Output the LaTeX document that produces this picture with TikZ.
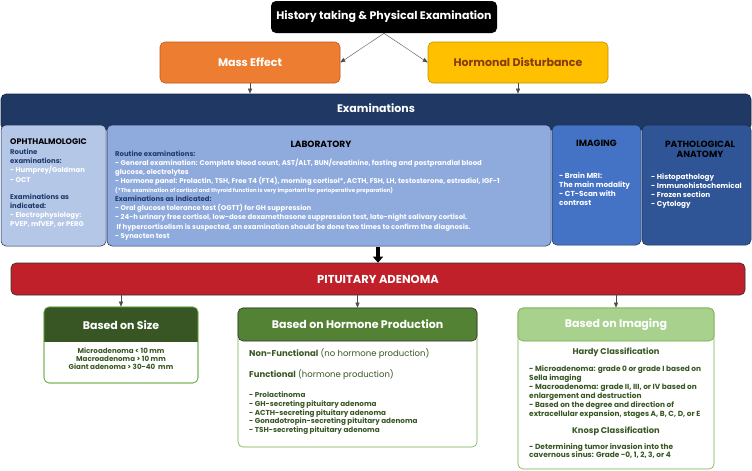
\documentclass[tikz,border=0pt]{standalone}
\usepackage{fontspec}
\setmainfont{Poppins}
\usetikzlibrary{arrows.meta}
\definecolor{orangeF}{HTML}{ED7D31}
\definecolor{orangeD}{HTML}{B85A1E}
\definecolor{yellowF}{HTML}{FFC000}
\definecolor{yellowD}{HTML}{BF9000}
\definecolor{brownT}{HTML}{843C0C}
\definecolor{navy}{HTML}{203864}
\definecolor{navyT}{HTML}{1F3A6B}
\definecolor{ophF}{HTML}{B4C7E7}
\definecolor{labF}{HTML}{8FAADC}
\definecolor{imgF}{HTML}{4472C4}
\definecolor{pathF}{HTML}{2F5597}
\definecolor{redF}{HTML}{C0202A}
\definecolor{gDark}{HTML}{375623}
\definecolor{gMid}{HTML}{548235}
\definecolor{gLight}{HTML}{A9D18E}
\definecolor{gBord}{HTML}{70AD47}
\definecolor{gText}{HTML}{385723}
\begin{document}
\begin{tikzpicture}[x=1pt,y=-1pt,
  box/.style={rounded corners=5pt, inner sep=0pt, line width=0.6pt},
  subbox/.style={box, draw=navy!80!black, line width=0.5pt},
  txt/.style={inner sep=0pt, align=left, font=\fontsize{6.9}{9.1}\selectfont\bfseries},
  ttl/.style={inner sep=0pt, align=center, font=\fontsize{9}{9.5}\selectfont\bfseries},
  big/.style={font=\fontsize{11}{13}\selectfont\bfseries},
  arr/.style={-{Triangle[width=4pt,length=5pt]}, line width=0.4pt, draw=black!70},
  ]
\useasboundingbox (0,0) rectangle (752,471);

% top nodes
\node[box, big, fill=black, minimum width=226, minimum height=32, text=white] (hist) at (384,17) {History taking \& Physical Examination};
\node[box, big, fill=orangeF, draw=orangeD, minimum width=180, minimum height=41, text=white] (mass) at (250,62.5) {Mass Effect};
\node[box, big, fill=yellowF, draw=yellowD, minimum width=180, minimum height=41, text=brownT] (horm) at (518,62.5) {Hormonal Disturbance};
\draw[arr] (hist.south) -- (mass.east);
\draw[arr] (hist.south) -- (horm.west);

% examinations bar
\node[box, fill=navy, draw=navy!70!black, minimum width=750, minimum height=36] (exam) at (376,112) {};
\node[inner sep=0pt, big, text=white] (examT) at (376,108.5) {Examinations};
\draw[arr] (mass.south) -- (mass.south |- exam.north);
\draw[arr] (horm.south) -- (horm.south |- exam.north);

% sub boxes
\node[subbox, fill=ophF, minimum width=105, minimum height=121] (oph) at (53.5,185.5) {};
\node[subbox, fill=labF, minimum width=444, minimum height=121] (lab) at (329,185.5) {};
\node[subbox, fill=imgF, minimum width=89, minimum height=120] (img) at (596.5,185) {};
\node[subbox, fill=pathF, minimum width=109, minimum height=120] (path) at (696.5,185) {};

% ophthalmologic text
\node[ttl, anchor=north west, text=black, font=\fontsize{8.1}{9}\selectfont\bfseries] (ophT) at (10,139) {OPHTHALMOLOGIC};
\node[txt, anchor=north west] (ophB) at (10,149) {%
\textcolor{navyT}{Routine}\\
\textcolor{navyT}{examinations:}\\
\textcolor{white}{- Humprey/Goldman}\\
\textcolor{white}{- OCT}\\[8pt]
\textcolor{navyT}{Examinations as}\\
\textcolor{navyT}{indicated:}\\
\textcolor{white}{- Electrophysiology:}\\
\textcolor{white}{PVEP, mfVEP, or PERG}};

% laboratory text
\node[ttl, text=black] (labT) at (321,144) {LABORATORY};
\node[txt, anchor=north west] (labB) at (115,150.5) {%
\textcolor{navyT}{Routine examinations:}\\
\textcolor{white}{- General examination: Complete blood count, AST/ALT, BUN/creatinine, fasting and postprandial blood}\\
\textcolor{white}{glucose, electrolytes}\\
\textcolor{white}{- Hormone panel: Prolactin, TSH, Free T4 (FT4), morning cortisol*, ACTH, FSH, LH, testosterone, estradiol, IGF-1}\\
\textcolor{white}{\fontsize{5.5}{9.1}\selectfont (*The examination of cortisol and thyroid function is very important for perioperative preparation)}\\
\textcolor{navyT}{Examinations as indicated:}\\
\textcolor{white}{- Oral glucose tolerance test (OGTT) for GH suppression}\\
\textcolor{white}{- 24-h urinary free cortisol, low-dose dexamethasone suppression test, late-night salivary cortisol.}\\
\textcolor{white}{\ If hypercortisolism is suspected, an examination should be done two times to confirm the diagnosis.}\\
\textcolor{white}{- Synacten test}};

% imaging text
\node[ttl, text=black] (imgT) at (596.5,143) {IMAGING};
\node[txt, anchor=north west, text=white, font=\fontsize{7.3}{9}\selectfont\bfseries] (imgB) at (559,172) {- Brain MRI:\\The main modality\\- CT-Scan with\\contrast};

% pathological text
\node[ttl, text=black] (pathT) at (700,149.5) {PATHOLOGICAL\\ANATOMY};
\node[txt, anchor=north west, text=white, font=\fontsize{7.2}{8.8}\selectfont\bfseries] (pathB) at (651,174) {- Histopathology\\- Immunohistochemical\\- Frozen section\\- Cytology};

% thick arrow to pituitary adenoma
\coordinate (thickS) at (378,247);
\node[box, fill=redF, draw=black!80, minimum width=734, minimum height=32, text=white,
  font=\fontsize{11.5}{13}\selectfont\bfseries] (pit) at (378,279) {PITUITARY ADENOMA};
\draw[-{Triangle[width=10pt,length=6pt]}, line width=3.5pt] (thickS) -- (pit.north);

% bottom boxes
\node[box, draw=gBord, fill=white, minimum width=154, minimum height=76] (size) at (121,345) {};
\begin{scope}
\clip[rounded corners=5pt] (44,307) rectangle (198,383);
\fill[gDark] (44,307) rectangle (198,342);
\end{scope}
\draw[gBord, line width=0.6pt, rounded corners=5pt] (44,307) rectangle (198,383);
\node[inner sep=0pt, big, text=white] (sizeT) at (121,325) {Based on Size};
\node[inner sep=0pt, align=center, text=gText, font=\fontsize{7.1}{8}\selectfont\bfseries] (sizeB) at (121,359)
  {Microadenoma < 10 mm\\Macroadenoma > 10 mm\\Giant adenoma > 30-40\ \ mm};

\node[box, draw=gBord, fill=white, minimum width=239, minimum height=139] (hprod) at (357.5,377.5) {};
\draw[fill=gMid, draw=black!80, line width=0.6pt, rounded corners=5pt] (238,308) rectangle (477,341);
\node[inner sep=0pt, big, text=white] (hprodT) at (357.5,324.5) {Based on Hormone Production};
\node[inner sep=0pt, anchor=west, text=gText, font=\fontsize{8.5}{9}\selectfont] (nonF) at (249,354)
  {\textbf{Non-Functional} (no hormone production)};
\node[inner sep=0pt, anchor=west, text=gText, font=\fontsize{8.5}{9}\selectfont] (func) at (249,375)
  {\textbf{Functional} (hormone production)};
\node[txt, anchor=north west, text=gText, font=\fontsize{7.2}{8.6}\selectfont\bfseries] (funcL) at (249,392)
  {- Prolactinoma\\- GH-secreting pituitary adenoma\\- ACTH-secreting pituitary adenoma\\- Gonadotropin-secreting pituitary adenoma\\- TSH-secreting pituitary adenoma};

\node[box, draw=gBord, fill=white, minimum width=196, minimum height=161] (bimg) at (616,388.5) {};
\draw[fill=gLight, draw=gBord, line width=0.6pt, rounded corners=5pt] (518,308) rectangle (714,341);
\node[inner sep=0pt, big, text=white] (bimgT) at (616,324.5) {Based on Imaging};
\node[inner sep=0pt, text=gText, font=\fontsize{8.3}{9}\selectfont\bfseries] (hardy) at (616,352) {Hardy Classification};
\node[txt, anchor=north west, text=gText, font=\fontsize{7.4}{9}\selectfont\bfseries] (hardyL) at (529,365)
  {- Microadenoma: grade 0 or grade I based on\\Sella imaging\\- Macroadenoma: grade II, III, or IV based on\\enlargement and destruction\\- Based on the degree and direction of\\extracellular expansion, stages A, B, C, D, or E};
\node[inner sep=0pt, text=gText, font=\fontsize{8.3}{9}\selectfont\bfseries] (knosp) at (616,431) {Knosp Classification};
\node[txt, anchor=north west, text=gText, font=\fontsize{7.4}{8.5}\selectfont\bfseries] (knospL) at (529,443)
  {- Determining tumor invasion into the\\cavernous sinus: Grade -0, 1, 2, 3, or 4};

\draw[arr] (pit.south -| size.north) -- (size.north);
\draw[arr] (pit.south -| hprod.north) -- (hprod.north);
\draw[arr] (pit.south -| bimg.north) -- (bimg.north);
\end{tikzpicture}
\end{document}
